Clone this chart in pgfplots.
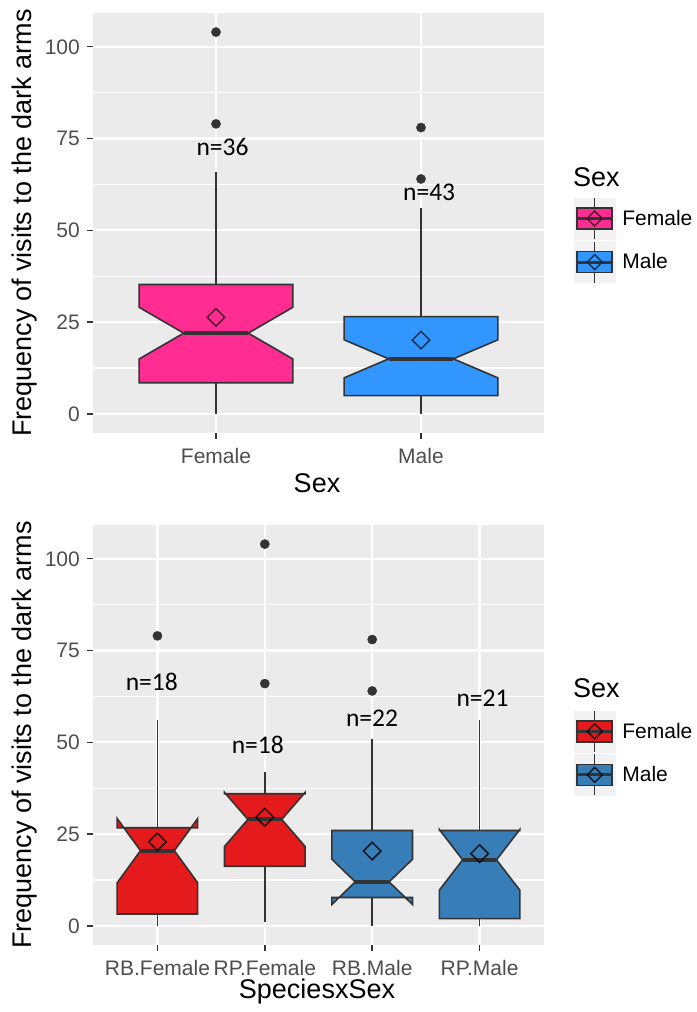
\documentclass[border=0pt]{standalone}
\usepackage{fontspec}
\setmainfont{Liberation Sans}
\newfontfamily\calfont{Carlito}
\usepackage{pgfplots}
\pgfplotsset{compat=1.18}

\definecolor{panelbg}{HTML}{EBEBEB}
\definecolor{keybg}{HTML}{F2F2F2}
\definecolor{edge}{HTML}{333333}
\definecolor{ticktext}{HTML}{4D4D4D}
\definecolor{pinkF}{HTML}{FF2D91}
\definecolor{blueM}{HTML}{3296FF}
\definecolor{redF}{HTML}{E41A1C}
\definecolor{steelM}{HTML}{377EB8}

\newcommand\ticksize{\fontsize{21bp}{25bp}\selectfont}
\newcommand\titlesize{\fontsize{27bp}{32bp}\selectfont}
\newcommand\nsize{\calfont\fontsize{25.5bp}{30bp}\selectfont}

% relative width of the notch at the median
\newcommand\notchw{0.42}
% notched box: #1 position, #2 lower whisker, #3 Q1, #4 lower notch,
% #5 median, #6 upper notch, #7 Q3, #8 upper whisker, #9 fill colour
\newcommand\notchbox[9]{%
  \pgfmathsetmacro\xl{#1-0.375}%
  \pgfmathsetmacro\xr{#1+0.375}%
  \pgfmathsetmacro\xil{#1-0.375*\notchw}%
  \pgfmathsetmacro\xir{#1+0.375*\notchw}%
  \addplot[edge, line width=1.6bp] coordinates {(#1,#7) (#1,#8)};
  \addplot[edge, line width=1.6bp] coordinates {(#1,#2) (#1,#3)};
  \addplot[draw=edge, line width=1.6bp, fill=#9, line join=miter]
    coordinates {(\xl,#7) (\xl,#6) (\xil,#5) (\xl,#4) (\xl,#3)
                 (\xr,#3) (\xr,#4) (\xir,#5) (\xr,#6) (\xr,#7)} -- cycle;
  \addplot[edge, line width=4bp] coordinates {(\xil,#5) (\xir,#5)};
}
% mean marker: #1 position, #2 mean, #3 outline colour
\newcommand\meanmark[3]{%
  \addplot[only marks, mark=square, mark size=6.2bp,
    mark options={rotate=45, draw=#3, line width=1.5bp, fill=none}]
    coordinates {(#1,#2)};
}
% legend key glyph: #1 fill, #2 diamond outline
\newcommand\keyglyph[2]{%
  \fill[keybg] (0bp,-20.5bp) rectangle (41bp,20.5bp);
  \draw[edge, line width=1.6bp] (20.5bp,-20.5bp) -- (20.5bp,20.5bp);
  \filldraw[fill=#1, draw=edge, line width=1.6bp] (3bp,-10.5bp) rectangle (38bp,10.5bp);
  \draw[edge, line width=3bp] (3bp,0bp) -- (38bp,0bp);
  \draw[#2, line width=1.4bp] (20.5bp,-7.5bp) -- (28bp,0bp) -- (20.5bp,7.5bp) -- (13bp,0bp) -- cycle;
}

\pgfplotsset{
  gg/.style={
    scale only axis, width=451bp, height=420bp,
    ymin=-5.2, ymax=109.2,
    axis background/.style={fill=panelbg},
    axis line style={draw=none},
    grid=both,
    major grid style={white, line width=2.2bp},
    minor grid style={white, line width=1.1bp},
    ytick={0,25,50,75,100},
    minor ytick={12.5,37.5,62.5,87.5},
    tick pos=left, tick align=outside,
    major tick length=6bp, minor tick length=0bp,
    major tick style={draw=edge, line width=1.4bp},
    /pgf/number format/assume math mode=true,
    yticklabel style={font=\ticksize, text=ticktext, anchor=east, inner sep=0pt, xshift=-7bp},
    xticklabel style={font=\ticksize, text=ticktext, anchor=base, inner sep=0pt, yshift=-24.3bp},
    legend style={draw=none, fill=none, inner sep=0pt, outer sep=0pt,
      row sep=1bp, font=\ticksize, nodes={inner sep=0pt, outer sep=0pt},
      /tikz/every odd column/.append style={column sep=7bp}},
    legend cell align=left,
  }
}

\begin{document}
\begin{tikzpicture}
\path[use as bounding box] (0bp,0bp) rectangle (697bp,-1012bp);

% ---- by sex ----
\begin{axis}[gg, at={(93bp,-433bp)}, anchor=south west,
  xmin=0.4, xmax=2.6, xtick={1,2}, xticklabels={Female,Male},
  legend style={at={(axis description cs:1.0665,0.5615)}, anchor=north west}]
\addlegendimage{legend image code/.code={\keyglyph{pinkF}{black!70!pinkF}}}
\addlegendentry{Female}
\addlegendimage{legend image code/.code={\keyglyph{blueM}{black!70!blueM}}}
\addlegendentry{Male}

\notchbox{1}{0}{8.5}{14.96}{22}{29.04}{35.25}{66}{pinkF}
\meanmark{1}{26.3}{black!70!pinkF}
\addplot[only marks, mark=*, mark size=4.6bp, mark options={fill=edge, draw=edge}]
  coordinates {(1,104) (1,79)};

\notchbox{2}{0}{5}{9.82}{15}{20.18}{26.5}{56}{blueM}
\meanmark{2}{20.1}{black!70!blueM}
\addplot[only marks, mark=*, mark size=4.6bp, mark options={fill=edge, draw=edge}]
  coordinates {(2,78) (2,64)};

\node[font=\nsize] at (axis cs:1.032,72.6) {n=36};
\node[font=\nsize] at (axis cs:2.04,60.4) {n=43};
\end{axis}

% ---- by species and sex ----
\begin{axis}[gg, at={(93bp,-945bp)}, anchor=south west,
  xmin=0.4, xmax=4.6, xtick={1,2,3,4},
  xticklabels={RB.Female,RP.Female,RB.Male,RP.Male},
  legend style={at={(axis description cs:1.0665,0.5595)}, anchor=north west}]
\addlegendimage{legend image code/.code={\keyglyph{redF}{black!85!redF}}}
\addlegendentry{Female}
\addlegendimage{legend image code/.code={\keyglyph{steelM}{black!85!steelM}}}
\addlegendentry{Male}

\notchbox{1}{0}{3.25}{11.75}{20.5}{29.25}{26.75}{56}{redF}
\meanmark{1}{22.9}{black!85!redF}
\addplot[only marks, mark=*, mark size=4.6bp, mark options={fill=edge, draw=edge}]
  coordinates {(1,79)};

\notchbox{2}{1}{16.25}{21.65}{29}{36.35}{36}{42}{redF}
\meanmark{2}{29.6}{black!85!redF}
\addplot[only marks, mark=*, mark size=4.6bp, mark options={fill=edge, draw=edge}]
  coordinates {(2,104) (2,66)};

\notchbox{3}{0}{7.75}{5.85}{12}{18.15}{26}{51}{steelM}
\meanmark{3}{20.4}{black!85!steelM}
\addplot[only marks, mark=*, mark size=4.6bp, mark options={fill=edge, draw=edge}]
  coordinates {(3,78) (3,64)};

\notchbox{4}{0}{2}{9.73}{18}{26.27}{26}{56}{steelM}
\meanmark{4}{19.7}{black!85!steelM}

\node[font=\nsize] at (axis cs:0.947,66.4) {n=18};
\node[font=\nsize] at (axis cs:1.934,49.2) {n=18};
\node[font=\nsize] at (axis cs:2.998,56.7) {n=22};
\node[font=\nsize] at (axis cs:4.028,61.9) {n=21};
\end{axis}

% axis titles and legend titles
\begin{scope}[every node/.style={font=\titlesize, inner sep=0pt}]
\node[rotate=90] at (25bp,-223bp) {Frequency of visits to the dark arms};
\node[rotate=90] at (25bp,-735bp) {Frequency of visits to the dark arms};
\node at (317bp,-483bp) {Sex};
\node[anchor=base] at (317bp,-998.5bp) {SpeciesxSex};
\node[anchor=west] at (573bp,-177.5bp) {Sex};
\node[anchor=west] at (573bp,-688bp) {Sex};
\end{scope}
\end{tikzpicture}
\end{document}
